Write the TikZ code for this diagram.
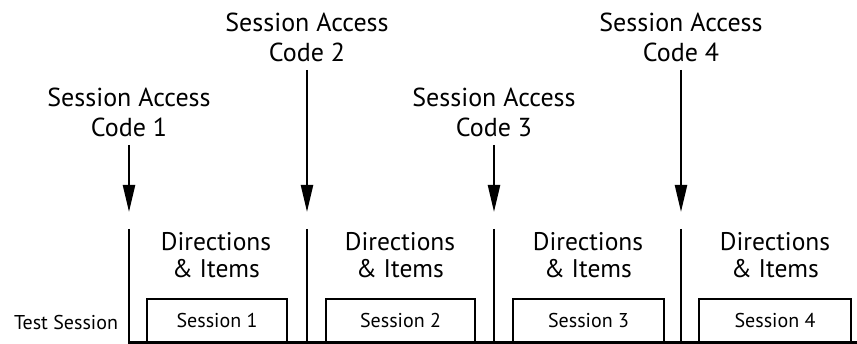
\documentclass[tikz,border=0pt]{standalone}
\usepackage{fontspec}
\setmainfont{PT Sans}
\usetikzlibrary{arrows.meta}
\begin{document}
\begin{tikzpicture}[x=1pt,y=-1pt,
  lbl/.style={align=center,inner sep=0pt,anchor=south,font=\fontsize{26}{29.5}\selectfont},
  dir/.style={align=center,inner sep=0pt,font=\fontsize{25.5}{27}\selectfont},
  sbox/.style={draw,line width=2.3pt,minimum height=44pt,inner sep=0pt,font=\fontsize{20}{22}\selectfont},
  bar/.style={line width=2.3pt},
  arr/.style={line width=2.3pt,-{Triangle[length=27pt,width=12pt]}}]
\useasboundingbox (0,0) rectangle (857,344);
% labels
\node[lbl] (l1) at (129,137) {Session Access\\Code 1};
\node[lbl] (l2) at (307,62) {Session Access\\Code 2};
\node[lbl] (l3) at (494,137) {Session Access\\Code 3};
\node[lbl] (l4) at (681,62) {Session Access\\Code 4};
% arrow targets
\coordinate (a1) at (129,212);
\coordinate (a2) at (307,212);
\coordinate (a3) at (494,212);
\coordinate (a4) at (681,212);
\draw[arr] ([yshift=-8pt]l1.south) -- (a1);
\draw[arr] ([yshift=-8pt]l2.south) -- (a2);
\draw[arr] ([yshift=-8pt]l3.south) -- (a3);
\draw[arr] ([yshift=-8pt]l4.south) -- (a4);
% vertical bars
\coordinate (v1t) at (129,229); \coordinate (v1b) at (129,343);
\coordinate (v2t) at (307,229); \coordinate (v2b) at (307,343);
\coordinate (v3t) at (494,229); \coordinate (v3b) at (494,343);
\coordinate (v4t) at (681,229); \coordinate (v4b) at (681,343);
\coordinate (bl) at (128,342.5); \coordinate (br) at (857,342.5);
\draw[bar] (v1t) -- (v1b);
\draw[bar] (v2t) -- (v2b);
\draw[bar] (v3t) -- (v3b);
\draw[bar] (v4t) -- (v4b);
\draw[bar] (bl) -- (br);
% directions
\node[dir] (d1) at (216,255) {Directions\\\& Items};
\node[dir] (d2) at (400,255) {Directions\\\& Items};
\node[dir] (d3) at (588,255) {Directions\\\& Items};
\node[dir] (d4) at (775,255) {Directions\\\& Items};
% session boxes
\node[sbox,minimum width=140pt] (s1) at (217,321) {Session 1};
\node[sbox,minimum width=149pt] (s2) at (400.5,321) {Session 2};
\node[sbox,minimum width=151pt] (s3) at (588.5,321) {Session 3};
\node[sbox,minimum width=152pt] (s4) at (775,321) {Session 4};
\node[inner sep=0pt,font=\fontsize{20}{22}\selectfont] (ts) at (66,323) {Test Session};
\end{tikzpicture}
\end{document}
